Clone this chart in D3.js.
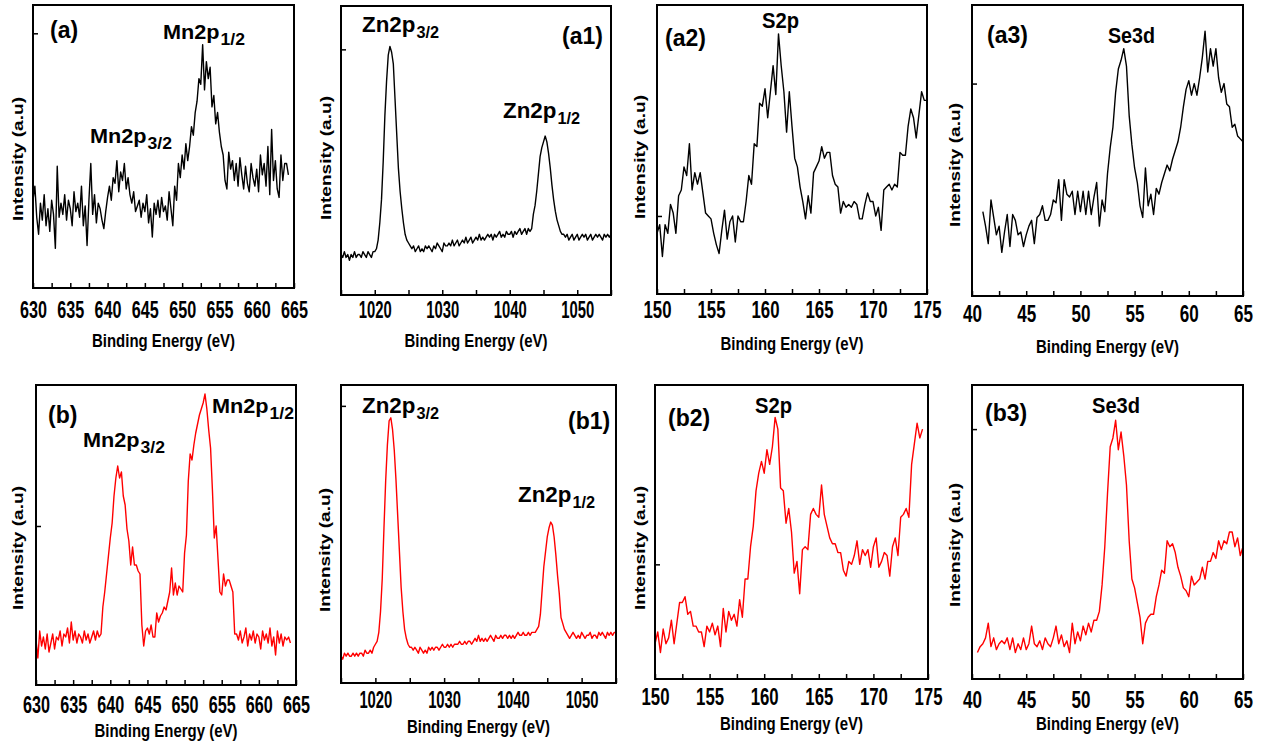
<!DOCTYPE html>
<html>
<head>
<meta charset="UTF-8">
<title>XPS spectra</title>
<script src="https://cdn.jsdelivr.net/npm/d3@7"></script>
<style>
  body { margin: 0; background: #fff; }
  text { font-family: "Liberation Sans", Arial, sans-serif; font-weight: bold; fill: #000; }
</style>
</head>
<body>
<div id="chart"></div>
<script>
// all spectra sampled on a 0.25 eV grid, intensity in a.u. (0-100 of the frame)
const step = 0.25;

// Mn 2p, sample (a), from 630 eV
const mnA = [
  31,36,25,19, 30,24,33,22, 28,20,31,26, 14,43,25,30, 26,33,24,31,
  28,22,34,27, 30,25,36,22, 29,15,31,44, 26,33,23,30, 28,24,21,27,
  32,36,31,39, 37,45,34,41, 38,44,35,39, 33,30,34,27, 29,31,25,30,
  27,33,23,28, 18,30,26,31, 25,32,27,29, 24,34,28,22, 36,31,44,39,
  47,42,51,45, 50,57,54,62, 66,74,72,86, 70,80,74,78, 64,68,58,62,
  55,50,47,38, 35,48,42,45, 38,44,36,46, 40,35,43,37, 34,44,39,36,
  42,34,47,40, 44,36,50,33, 56,38,45,35, 32,47,38,44, 44,40
];
// Zn 2p, sample (a), from 1015 eV
const znA = [
  14,13,15,13, 14,12,14,13, 15,13,14,14, 13,15,14,13, 15,14,13,15,
  15,16,19,25, 33,46,62,74, 83,86,84,80, 68,56,44,36, 30,25,21,19,
  18,17,16,17, 15,16,17,15, 16,15,17,16, 17,16,15,17, 16,18,17,16,
  15,18,17,17, 18,17,19,17, 18,19,17,18, 19,18,20,18, 19,20,18,19,
  20,19,21,19, 20,19,20,21, 20,21,19,21, 20,21,22,20, 21,20,22,21,
  21,22,20,22, 21,22,23,21, 22,23,21,23, 22,23,28,31, 36,42,48,51,
  53,55,53,49, 44,38,33,29, 26,24,22,21, 21,20,21,19, 20,21,19,20,
  21,19,20,21, 20,21,19,20, 21,19,20,21, 20,21,20,19, 21,20,21,20, 21
];
// S 2p, sample (a), from 150 eV
const sA = [
  21,24,13,24, 21,31,28,21, 34,36,44,41, 52,36,42,38, 42,35,28,27,
  26,21,17,14, 22,29,19,25, 27,18,27,25, 25,32,41,38, 52,51,66,65,
  71,61,70,79, 69,90,79,70, 56,70,58,47, 44,37,32,26, 34,28,42,44,
  46,51,47,49, 49,41,38,37, 28,32,30,31, 30,32,31,26, 26,31,35,32,
  32,27,30,22, 36,37,38,36, 38,37,49,48, 48,58,64,61, 54,62,70,67, 67
];
// Se 3d, sample (a), from 41 eV
const seA = [
  29,24,18,33, 27,21,24,15, 22,28,17,28, 26,21,22,17, 21,24,26,18,
  27,28,31,26, 26,28,33,32, 40,26,40,35, 34,36,28,36, 29,36,28,36,
  28,34,39,24, 33,29,42,51, 58,70,78,81, 85,79,62,52, 44,39,31,27,
  44,31,35,28, 37,35,39,42, 45,43,47,50, 53,58,65,71, 74,69,73,69,
  75,82,91,77, 85,79,85,75, 70,73,66,65, 58,59,55,54, 53
];
// Mn 2p, sample (b), from 630 eV
const mnB = [
  15,9,18,13, 16,12,17,11, 14,17,12,16, 15,18,13,17, 16,19,14,21,
  15,18,14,17, 16,14,18,15, 17,14,16,18, 15,18,16,17, 26,31,37,43,
  49,54,63,69, 73,69,71,63, 60,52,48,40, 46,40,40,38, 37,20,13,18,
  19,17,20,16, 16,24,21,23, 24,26,25,28, 31,39,30,34, 30,33,32,31,
  44,50,68,77, 75,80,84,87, 90,92,94,97, 92,85,79,65, 49,53,42,31,
  30,37,33,35, 35,33,31,17, 17,15,18,14, 16,19,13,17, 15,18,14,17,
  16,12,18,15, 17,14,19,13, 16,10,18,14, 17,13,16,15, 16,14
];
// Zn 2p, sample (b), from 1015 eV
const znB = [
  9,8,10,9, 10,9,9,10, 9,10,9,10, 10,9,11,10, 10,11,10,12,
  13,14,17,24, 35,52,68,80, 88,89,85,78, 68,56,44,32, 24,18,15,13,
  12,12,11,12, 11,10,12,11, 10,11,10,12, 11,12,11,12, 12,11,12,13,
  12,12,13,12, 13,12,13,13, 13,14,13,13, 14,13,14,14, 13,14,15,14,
  16,14,15,14, 15,14,15,16, 15,14,16,15, 15,16,15,16, 16,15,16,15,
  16,15,16,17, 16,16,17,16, 16,17,16,17, 17,17,18,19, 23,31,39,44,
  49,52,54,53, 49,43,36,30, 22,20,18,17, 16,15,16,17, 16,15,16,15,
  17,16,15,16, 16,17,15,16, 16,15,17,16, 17,16,15,17, 16,17,16,17, 17
];
// S 2p, sample (b), from 150 eV
const sB = [
  12,16,9,17, 12,14,20,12, 19,26,26,28, 22,23,18,18, 16,16,11,18,
  16,19,15,18, 11,24,16,23, 20,22,18,27, 21,34,34,45, 52,64,70,74,
  70,78,73,79, 89,85,65,64, 53,58,50,36, 40,29,44,45, 44,56,58,56,
  55,66,56,52, 48,46,46,43, 43,37,35,40, 39,42,47,39, 44,42,44,38,
  45,48,38,40, 43,42,35,45, 48,42,55,56, 58,55,73,80, 87,82,85
];
// Se 3d, sample (b), from 40.5 eV
const seB = [
  9,11, 12,14,19,11, 14,10,12,13, 12,14,10,14, 9,12,10,14,
  10,12,18,12, 11,13,10,14, 12,11,14,18, 12,15,11,13, 9,19,12,16,
  13,18,15,19, 16,20,20,23, 32,45,63,79, 82,88,78,84, 76,66,47,34,
  31,26,21,12, 19,21,22,22, 28,32,37,36, 47,45,46,43, 38,35,31,30,
  28,35,32,33, 34,38,34,40, 40,43,41,47, 44,47,46,50, 50,45,48,42, 45
];

// axis ticks and labels
const mnTicks = [630,632.5,635,637.5,640,642.5,645,647.5,650,652.5,655,657.5,660,662.5,665];
const mnLabels = [630,635,640,645,650,655,660,665];
const znTicks = [1015,1020,1025,1030,1035,1040,1045,1050,1055];
const znLabels = [1020,1030,1040,1050];
const sTicks = [150,152.5,155,157.5,160,162.5,165,167.5,170,172.5,175];
const sLabels = [150,155,160,165,170,175];
const seTicks = [40,42.5,45,47.5,50,52.5,55,57.5,60,62.5,65];
const seLabels = [40,45,50,55,60,65];

// peak names: font size, subscript size and total width of name + subscript
const mnStyle = {s: 21, ss: 17, w: 82};
const znStyle = {s: 22, ss: 16, w: 77};

const panels = [
  {data: mnA, start: 630, domain: [630,665], ticks: mnTicks, labels: mnLabels, lw: 27, yTick: 90, color: "#000",
   box: [33,5,261,283], pad: 30, titleY: 347, yTitle: [18,159],
   notes: [{t:"(a)",x:17,y:33,s:23},{t:"Mn2p",sub:"1/2",x:130,y:34,st:mnStyle},{t:"Mn2p",sub:"3/2",x:57,y:138,st:mnStyle}]},
  {data: znA, start: 1015, domain: [1015,1055], ticks: znTicks, labels: znLabels, lw: 33, yTick: 85, color: "#000",
   box: [341,6,270,289], pad: 23, titleY: 347, yTitle: [326,158],
   notes: [{t:"Zn2p",sub:"3/2",x:21,y:26,st:znStyle},{t:"(a1)",x:221,y:38,s:23},{t:"Zn2p",sub:"1/2",x:162,y:112,st:znStyle}]},
  {data: sA, start: 150, domain: [150,175], ticks: sTicks, labels: sLabels, lw: 28, yTick: 27, color: "#000",
   box: [657,5,270,289], pad: 24, titleY: 350, yTitle: [640,157],
   notes: [{t:"(a2)",x:8,y:41,s:23},{t:"S2p",x:105,y:23,s:22,w:37}]},
  {data: seA, start: 41, domain: [40,65], ticks: seTicks, labels: seLabels, lw: 19, yTick: 73, color: "#000",
   box: [972,5,271,291], pad: 26, titleY: 353, yTitle: [955,165],
   notes: [{t:"(a3)",x:15,y:38,s:23},{t:"Se3d",x:136,y:38,s:22,w:47}]},
  {data: mnB, start: 630, domain: [630,665], ticks: mnTicks, labels: mnLabels, lw: 27, yTick: 53, color: "#ff0000",
   box: [36,385,260,300], pad: 28, titleY: 737, yTitle: [18,548],
   notes: [{t:"(b)",x:12,y:38,s:23},{t:"Mn2p",sub:"3/2",x:47,y:62,st:mnStyle},{t:"Mn2p",sub:"1/2",x:176,y:28,st:mnStyle}]},
  {data: znB, start: 1015, domain: [1015,1055], ticks: znTicks, labels: znLabels, lw: 33, yTick: 93, color: "#ff0000",
   box: [341,385,275,298], pad: 25, titleY: 733, yTitle: [325,550],
   notes: [{t:"Zn2p",sub:"3/2",x:21,y:28,st:znStyle},{t:"(b1)",x:227,y:44,s:23},{t:"Zn2p",sub:"1/2",x:177,y:117,st:znStyle}]},
  {data: sB, start: 150, domain: [150,175], ticks: sTicks, labels: sLabels, lw: 28, yTick: 39, color: "#ff0000",
   box: [655,385,273,294], pad: 26, titleY: 730, yTitle: [640,548],
   notes: [{t:"(b2)",x:13,y:41,s:23},{t:"S2p",x:100,y:28,s:22,w:37}]},
  {data: seB, start: 40.5, domain: [40,65], ticks: seTicks, labels: seLabels, lw: 19, yTick: 85, color: "#ff0000",
   box: [972,385,271,294], pad: 29, titleY: 730, yTitle: [955,545],
   notes: [{t:"(b3)",x:13,y:36,s:23},{t:"Se3d",x:120,y:28,s:22,w:48}]}
];

const svg = d3.select("#chart").append("svg")
  .attr("width", 1262)
  .attr("height", 747);

panels.forEach(function(p) {
  const [left, top, w, h] = p.box;
  const x = d3.scaleLinear().domain(p.domain).range([0, w]);
  const y = d3.scaleLinear().domain([0, 100]).range([h, 0]);

  const g = svg.append("g").attr("transform", "translate(" + left + "," + top + ")");

  const line = d3.line()
    .x((d, i) => x(p.start + i * step))
    .y(d => y(d));

  g.append("path")
    .datum(p.data)
    .attr("fill", "none")
    .attr("stroke", p.color)
    .attr("stroke-width", 1.4)
    .attr("stroke-linejoin", "round")
    .attr("d", line);

  // bottom axis, ticks pointing inward
  const xa = g.append("g")
    .attr("transform", "translate(0," + h + ")")
    .call(d3.axisBottom(x)
      .tickValues(p.ticks)
      .tickSize(-5)
      .tickFormat(d => p.labels.includes(d) ? d : ""));
  xa.select(".domain").remove();
  xa.selectAll("line").attr("stroke", "#000").attr("stroke-width", 1.5);
  xa.selectAll("text")
    .attr("y", p.pad)
    .attr("dy", null)
    .attr("font-size", 23)
    .attr("font-family", null)
    .attr("fill", "#000")
    .filter(d => p.labels.includes(d))
    .attr("textLength", p.lw)
    .attr("lengthAdjust", "spacingAndGlyphs");

  // one inward tick on the left
  const ya = g.append("g")
    .call(d3.axisLeft(y).tickValues([p.yTick]).tickSize(-5).tickFormat(""));
  ya.select(".domain").remove();
  ya.selectAll("line").attr("stroke", "#000").attr("stroke-width", 1.5);

  g.append("rect")
    .attr("width", w)
    .attr("height", h)
    .attr("fill", "none")
    .attr("stroke", "#000")
    .attr("stroke-width", 2);

  p.notes.forEach(function(n) {
    const st = n.st || {};
    const t = g.append("text")
      .attr("x", n.x)
      .attr("y", n.y)
      .attr("font-size", st.s || n.s);
    t.append("tspan").text(n.t);
    if (n.sub) t.append("tspan").attr("font-size", st.ss).attr("dx", 1).attr("dy", 6).text(n.sub);
    const tw = st.w || n.w;
    if (tw) t.attr("textLength", tw).attr("lengthAdjust", "spacingAndGlyphs");
  });

  svg.append("text")
    .attr("x", left + w / 2)
    .attr("y", p.titleY)
    .attr("text-anchor", "middle")
    .attr("font-size", 19)
    .attr("textLength", 143)
    .attr("lengthAdjust", "spacingAndGlyphs")
    .text("Binding Energy (eV)");

  svg.append("text")
    .attr("transform", "translate(" + p.yTitle[0] + "," + p.yTitle[1] + ") scale(0.82,1) rotate(-90)")
    .attr("text-anchor", "middle")
    .attr("dy", "0.35em")
    .attr("font-size", 18)
    .attr("textLength", 124)
    .attr("lengthAdjust", "spacingAndGlyphs")
    .text("Intensity (a.u)");
});
</script>
</body>
</html>
